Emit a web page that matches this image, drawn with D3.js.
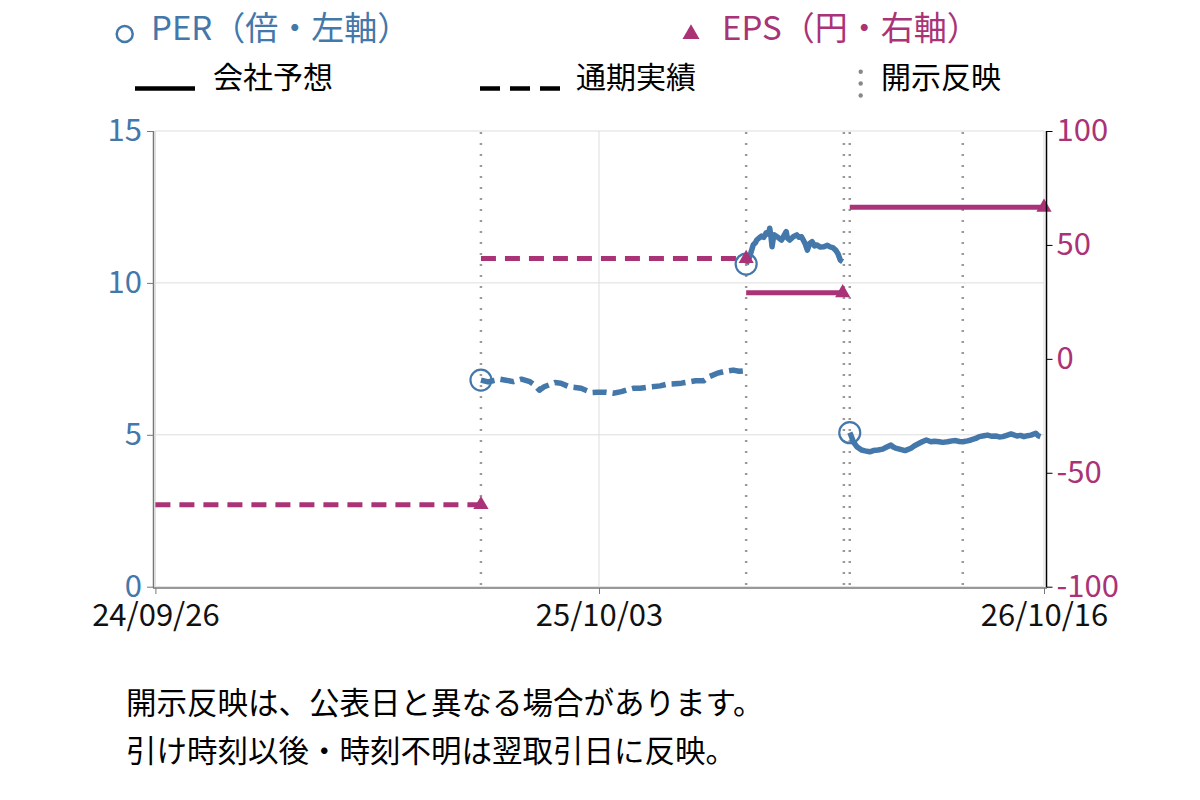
<!DOCTYPE html>
<html><head><meta charset="utf-8">
<script src="https://cdn.jsdelivr.net/npm/d3@7"></script>
<style>
html,body{margin:0;padding:0;background:#fff;}
svg{display:block;font-family:"Noto Sans CJK JP","Noto Sans",sans-serif;}
</style></head><body>
<svg id="chart" width="1200" height="800"></svg>
<script>
// ---- data ----
const xTickDates = ["2024-09-26", "2025-10-03", "2026-10-16"];
const perTicks = [0, 5, 10, 15];
const epsTicks = [-100, -50, 0, 50, 100];

// PER (左軸) segments
const perSeg1Dates = ["2025-06-26","2025-07-02","2025-07-06","2025-07-12","2025-07-18","2025-07-23","2025-07-30","2025-08-06","2025-08-10","2025-08-14","2025-08-18","2025-08-22","2025-08-27","2025-09-01","2025-09-08","2025-09-13","2025-09-18","2025-09-23","2025-09-27","2025-10-02","2025-10-09","2025-10-15","2025-10-22","2025-10-27","2025-11-01","2025-11-07","2025-11-12","2025-11-17","2025-11-24","2025-11-29","2025-12-04","2025-12-12","2025-12-18","2025-12-24","2025-12-31","2026-01-05","2026-01-11","2026-01-17","2026-01-25","2026-01-30","2026-02-04"];
const perSeg1Values = [6.80,6.74,6.78,6.83,6.79,6.75,6.83,6.75,6.64,6.47,6.58,6.64,6.72,6.70,6.58,6.56,6.53,6.45,6.39,6.40,6.40,6.37,6.42,6.48,6.53,6.53,6.56,6.58,6.61,6.66,6.67,6.70,6.74,6.78,6.78,6.92,7.02,7.08,7.13,7.09,7.11];

const perSeg2Dates = ["2026-02-05","2026-02-07","2026-02-08","2026-02-10","2026-02-11","2026-02-13","2026-02-14","2026-02-16","2026-02-18","2026-02-20","2026-02-22","2026-02-24","2026-02-25","2026-02-26","2026-02-27","2026-02-28","2026-03-01","2026-03-04","2026-03-07","2026-03-09","2026-03-11","2026-03-12","2026-03-14","2026-03-17","2026-03-20","2026-03-22","2026-03-24","2026-03-27","2026-03-29","2026-03-31","2026-04-02","2026-04-04","2026-04-06","2026-04-09","2026-04-12","2026-04-15","2026-04-17","2026-04-20","2026-04-22","2026-04-24","2026-04-26","2026-04-28"];
const perSeg2Values = [10.62,10.78,10.86,11.12,11.25,11.33,11.41,11.48,11.54,11.50,11.65,11.60,11.80,11.55,11.19,11.45,11.58,11.50,11.41,11.55,11.69,11.48,11.41,11.52,11.58,11.50,11.52,11.30,11.08,11.30,11.36,11.22,11.25,11.18,11.19,11.24,11.19,11.15,11.08,10.96,10.75,10.70];

const perSeg3Dates = ["2026-05-04","2026-05-05","2026-05-07","2026-05-10","2026-05-14","2026-05-17","2026-05-21","2026-05-24","2026-05-28","2026-06-01","2026-06-04","2026-06-08","2026-06-10","2026-06-12","2026-06-16","2026-06-20","2026-06-25","2026-06-28","2026-07-02","2026-07-05","2026-07-08","2026-07-12","2026-07-15","2026-07-19","2026-07-22","2026-07-26","2026-07-30","2026-08-02","2026-08-05","2026-08-08","2026-08-12","2026-08-15","2026-08-19","2026-08-22","2026-08-26","2026-08-29","2026-09-02","2026-09-05","2026-09-08","2026-09-11","2026-09-15","2026-09-18","2026-09-23","2026-09-26","2026-09-29","2026-10-02","2026-10-05","2026-10-09","2026-10-11","2026-10-13"];
const perSeg3Values = [5.07,4.99,4.77,4.61,4.50,4.47,4.44,4.48,4.50,4.53,4.59,4.66,4.60,4.56,4.52,4.48,4.56,4.64,4.72,4.78,4.83,4.77,4.79,4.77,4.75,4.77,4.80,4.81,4.78,4.77,4.80,4.83,4.88,4.94,4.97,4.99,4.95,4.96,4.93,4.94,4.99,5.03,4.96,4.98,4.94,4.97,4.99,5.05,4.97,4.94];
const perSegDashed = [true, false, false];

// EPS (右軸) segments
const epsFrom = ["2024-09-26", "2025-06-26", "2026-02-05", "2026-05-04"];
const epsTo = ["2025-06-26", "2026-02-05", "2026-04-28", "2026-10-16"];
const epsValues = [-64, 44, 29, 66.5];
const epsKind = ["実績", "実績", "予想", "予想"];

// 開示反映
const disclosureDates = ["2025-06-26", "2026-02-05", "2026-04-29", "2026-05-04", "2026-08-08"];

const legendLabels = ["PER（倍・左軸）", "EPS（円・右軸）", "会社予想", "通期実績", "開示反映"];
const notes = ["開示反映は、公表日と異なる場合があります。", "引け時刻以後・時刻不明は翌取引日に反映。"];

// ---- drawing ----
const BLUE = "#4477AA", PURPLE = "#AA3377";
const parse = d3.timeParse("%Y-%m-%d");
const svg = d3.select("#chart");
const FS = 30, TFS = 31, LFS = 33;

const x = d3.scaleTime().domain(xTickDates.map(parse)).range([155.4, 599, 1044]);
const yL = d3.scaleLinear().domain([0, 15]).range([586.7, 131]);
const yR = d3.scaleLinear().domain([-100, 100]).range([586.7, 131]);
const plotL = 155, plotR = 1044, plotT = 131, plotB = 586.7;

// grid
const grid = svg.append("g").attr("stroke", "#dddddd").attr("stroke-width", 1);
grid.selectAll("line.h").data(perTicks).join("line")
  .attr("x1", plotL).attr("x2", plotR)
  .attr("y1", d => yL(d)).attr("y2", d => yL(d));
grid.selectAll("line.v").data(xTickDates).join("line")
  .attr("x1", d => x(parse(d))).attr("x2", d => x(parse(d)))
  .attr("y1", plotT).attr("y2", plotB);

// disclosure lines
svg.append("g").selectAll("line").data(disclosureDates).join("line")
  .attr("x1", d => x(parse(d))).attr("x2", d => x(parse(d)))
  .attr("y1", plotT + 1).attr("y2", plotB)
  .attr("stroke", "#9a9a9a").attr("stroke-width", 2.5).attr("stroke-dasharray", "2,9");

// EPS lines
const epsG = svg.append("g");
epsValues.forEach((v, i) => {
  epsG.append("line")
    .attr("x1", x(parse(epsFrom[i]))).attr("x2", x(parse(epsTo[i])))
    .attr("y1", yR(v)).attr("y2", yR(v))
    .attr("stroke", PURPLE).attr("stroke-width", 5)
    .attr("stroke-dasharray", epsKind[i] === "実績" ? "15,9" : null);
});

// PER lines
const perSegs = [[perSeg1Dates, perSeg1Values], [perSeg2Dates, perSeg2Values], [perSeg3Dates, perSeg3Values]];
const line = d3.line().x(d => x(parse(d[0]))).y(d => yL(d[1]));
perSegs.forEach((s, i) => {
  const pts = s[0].map((d, j) => [d, s[1][j]]);
  svg.append("path").datum(pts).attr("d", line)
    .attr("fill", "none").attr("stroke", BLUE).attr("stroke-width", 5.5)
    .attr("stroke-linejoin", "round")
    .attr("stroke-dasharray", perSegDashed[i] ? "14,6" : null);
  svg.append("circle").attr("cx", x(parse(s[0][0]))).attr("cy", yL(s[1][0]))
    .attr("r", 10.5).attr("fill", "none").attr("stroke", BLUE).attr("stroke-width", 2.2);
});

// EPS triangles
const tri = d3.symbol().type(d3.symbolTriangle).size(100);
epsValues.forEach((v, i) => {
  svg.append("path").attr("d", tri)
    .attr("transform", `translate(${x(parse(epsTo[i]))},${yR(v)})`)
    .attr("fill", PURPLE);
});

// axes
const axL = svg.append("g").attr("transform", "translate(153,0)")
  .call(d3.axisLeft(yL).tickValues(perTicks).tickFormat(d => String(d)).tickSize(6).tickSizeOuter(0).tickPadding(5));
axL.select(".domain").remove();
axL.selectAll(".tick line").attr("stroke", "#777");
axL.selectAll("text").attr("fill", BLUE).style("font-size", TFS + "px").style("font-family", "Noto Sans CJK JP");
svg.append("line").attr("x1", 153.5).attr("x2", 153.5).attr("y1", 131).attr("y2", 588).attr("stroke", "#777").attr("stroke-width", 1.5);

const axR = svg.append("g").attr("transform", "translate(1046.5,0)")
  .call(d3.axisRight(yR).tickValues(epsTicks).tickFormat(d => String(d)).tickSize(6).tickSizeOuter(0).tickPadding(4));
axR.select(".domain").remove();
axR.selectAll(".tick line").attr("stroke", "#000");
axR.selectAll("text").attr("fill", PURPLE).style("font-size", TFS + "px").style("font-family", "Noto Sans CJK JP");
svg.append("line").attr("x1", 1046.5).attr("x2", 1046.5).attr("y1", 131).attr("y2", 588).attr("stroke", "#000").attr("stroke-width", 1.5);

const axB = svg.append("g").attr("transform", "translate(0,588)")
  .call(d3.axisBottom(x).tickValues(xTickDates.map(parse)).tickFormat(d3.timeFormat("%y/%m/%d")).tickSize(6).tickPadding(10));
axB.select(".domain").remove();
axB.selectAll(".tick line").attr("stroke", "#777");
axB.selectAll("text").attr("fill", "#111").style("font-size", TFS + "px").style("font-family", "Noto Sans CJK JP");
svg.append("line").attr("x1", 153).attr("x2", 1047).attr("y1", 588).attr("y2", 588).attr("stroke", "#777").attr("stroke-width", 1.5);

// legend
const lg = svg.append("g").style("font-size", FS + "px");
lg.append("circle").attr("cx", 124.7).attr("cy", 34).attr("r", 8).attr("fill", "none").attr("stroke", BLUE).attr("stroke-width", 2.5);
lg.append("text").attr("x", 151).attr("y", 40).attr("fill", BLUE).style("font-size", LFS + "px").text(legendLabels[0]);
lg.append("path").attr("d", d3.symbol().type(d3.symbolTriangle).size(125)).attr("transform", "translate(691,34)").attr("fill", PURPLE);
lg.append("text").attr("x", 722).attr("y", 40).attr("fill", PURPLE).style("font-size", LFS + "px").text(legendLabels[1]);
lg.append("line").attr("x1", 135).attr("x2", 195).attr("y1", 88.5).attr("y2", 88.5).attr("stroke", "#000").attr("stroke-width", 4.5);
lg.append("text").attr("x", 213).attr("y", 88).attr("fill", "#000").text(legendLabels[2]);
lg.append("line").attr("x1", 480).attr("x2", 560).attr("y1", 88.5).attr("y2", 88.5).attr("stroke", "#000").attr("stroke-width", 4.5).attr("stroke-dasharray", "20,10");
lg.append("text").attr("x", 576).attr("y", 88).attr("fill", "#000").text(legendLabels[3]);
[71.7, 83.5, 95.5].forEach(cy => lg.append("circle").attr("cx", 860.7).attr("cy", cy).attr("r", 2.2).attr("fill", "#888"));
lg.append("text").attr("x", 881).attr("y", 88).attr("fill", "#000").text(legendLabels[4]);

// notes
svg.append("g").style("font-size", "30.5px").selectAll("text").data(notes).join("text")
  .attr("x", 126).attr("y", (d, i) => 714 + i * 48).attr("fill", "#000").text(d => d);
</script></body></html>
